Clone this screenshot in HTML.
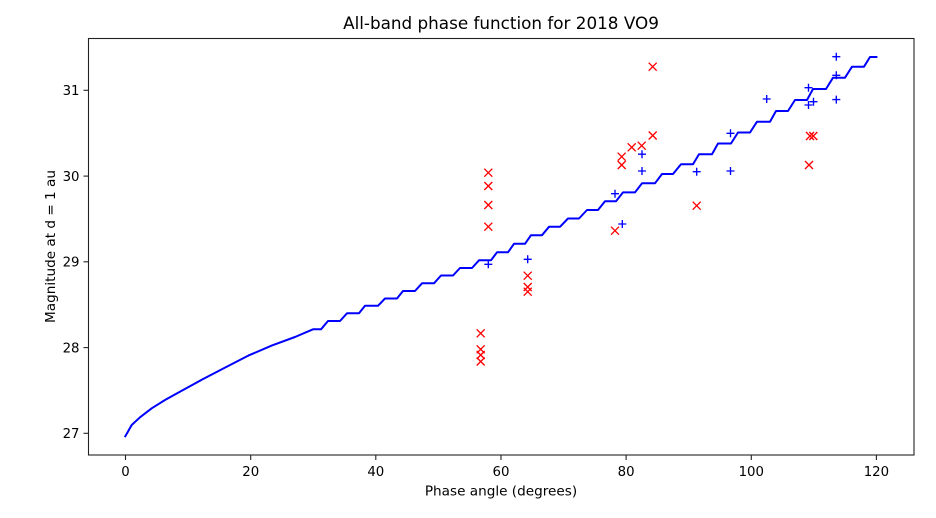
<!DOCTYPE html>
<html><head><meta charset="utf-8"><style>
html,body{margin:0;padding:0;background:#fff;}
svg{display:block;}
text{font-family:"DejaVu Sans","Liberation Sans",sans-serif;fill:#000;}
</style></head><body>
<svg width="936" height="518" viewBox="0 0 936 518" xmlns="http://www.w3.org/2000/svg">
<rect x="0" y="0" width="936" height="518" fill="#fff"/>
<!-- curve -->
<path fill="none" stroke="#0000ff" stroke-width="2" stroke-linejoin="round" stroke-linecap="square" d="M125.3,436.3 L131.7,425 L140,417.3 L151.7,408.3 L165,400 L181.7,390.7 L201.7,379.8 L225,367.6 L248.3,355.6 L271.7,345.6 L295,337 L313,329.3 L321,329.3 L328,321.0 L340,321.0 L347,313.3 L359,313.3 L365,305.8 L378,305.8 L385,298.5 L397,298.5 L403,291.0 L415,291.0 L422,283.3 L434,283.3 L441,275.5 L453,275.5 L460,268.0 L472,268.0 L479,260.3 L491,260.3 L497,252.3 L508,252.3 L514,243.8 L525,243.8 L531,235.2 L542,235.2 L549,226.8 L560,226.8 L568,218.5 L579,218.5 L587,210.0 L598,210.0 L605,201.2 L616,201.2 L623,192.4 L635,192.4 L642,183.3 L655,183.3 L662,174.0 L673,174.0 L681,164.3 L693,164.3 L699,154.2 L712,154.2 L718,143.5 L731,143.5 L738,132.5 L750,132.5 L757,121.7 L770,121.7 L776,111.0 L788,111.0 L795,100.0 L807,100.0 L813,89.0 L826,89.0 L833,77.7 L845,77.7 L852,66.7 L864,66.7 L870,57.0 L876.4,57.0"/>
<!-- red x markers -->
<g stroke="#ff0000" stroke-width="1.35" fill="none">
<path d="M476.7,329.3l8,8m0,-8l-8,8"/>
<path d="M476.7,345.3l8,8m0,-8l-8,8"/>
<path d="M476.7,351l8,8m0,-8l-8,8"/>
<path d="M476.7,357.5l8,8m0,-8l-8,8"/>
<path d="M484.3,168.7l8,8m0,-8l-8,8"/>
<path d="M484.3,182l8,8m0,-8l-8,8"/>
<path d="M484.3,201l8,8m0,-8l-8,8"/>
<path d="M484.3,222.7l8,8m0,-8l-8,8"/>
<path d="M523.7,271.7l8,8m0,-8l-8,8"/>
<path d="M523.7,283l8,8m0,-8l-8,8"/>
<path d="M523.7,287.7l8,8m0,-8l-8,8"/>
<path d="M611,226.7l8,8m0,-8l-8,8"/>
<path d="M617.7,152.7l8,8m0,-8l-8,8"/>
<path d="M617.7,161l8,8m0,-8l-8,8"/>
<path d="M627.7,143.3l8,8m0,-8l-8,8"/>
<path d="M637.7,141.7l8,8m0,-8l-8,8"/>
<path d="M648.7,62.7l8,8m0,-8l-8,8"/>
<path d="M648.7,131.5l8,8m0,-8l-8,8"/>
<path d="M692.7,201.7l8,8m0,-8l-8,8"/>
<path d="M805,161l8,8m0,-8l-8,8"/>
<path d="M806,132l8,8m0,-8l-8,8"/>
<path d="M809.3,132l8,8m0,-8l-8,8"/>
</g>
<!-- blue + markers -->
<g stroke="#0000ff" stroke-width="1.35" fill="none">
<path d="M484.3,264.3h8m-4,-4v8"/>
<path d="M523.7,259.3h8m-4,-4v8"/>
<path d="M611,193.7h8m-4,-4v8"/>
<path d="M618.3,224h8m-4,-4v8"/>
<path d="M638,154.2h8m-4,-4v8"/>
<path d="M638,171h8m-4,-4v8"/>
<path d="M692.7,171.7h8m-4,-4v8"/>
<path d="M726.5,133.3h8m-4,-4v8"/>
<path d="M726.5,171h8m-4,-4v8"/>
<path d="M762.7,99h8m-4,-4v8"/>
<path d="M804.5,87.7h8m-4,-4v8"/>
<path d="M804.5,105h8m-4,-4v8"/>
<path d="M809.5,101.7h8m-4,-4v8"/>
<path d="M832.3,56.7h8m-4,-4v8"/>
<path d="M832.3,75.3h8m-4,-4v8"/>
<path d="M832.3,99.6h8m-4,-4v8"/>
</g>
<!-- axes frame -->
<rect x="88.5" y="38.5" width="825.5" height="416.5" fill="none" stroke="#222" stroke-width="1.1"/>
<!-- ticks -->
<g stroke="#222" stroke-width="1.1">
<line x1="83.5" y1="90.3" x2="88.5" y2="90.3"/>
<line x1="83.5" y1="176.1" x2="88.5" y2="176.1"/>
<line x1="83.5" y1="261.8" x2="88.5" y2="261.8"/>
<line x1="83.5" y1="347.6" x2="88.5" y2="347.6"/>
<line x1="83.5" y1="433.3" x2="88.5" y2="433.3"/>
<line x1="125.5" y1="455" x2="125.5" y2="460"/>
<line x1="250.7" y1="455" x2="250.7" y2="460"/>
<line x1="375.8" y1="455" x2="375.8" y2="460"/>
<line x1="501" y1="455" x2="501" y2="460"/>
<line x1="626.1" y1="455" x2="626.1" y2="460"/>
<line x1="751.3" y1="455" x2="751.3" y2="460"/>
<line x1="876.4" y1="455" x2="876.4" y2="460"/>
</g>
<g font-size="13.3" text-anchor="end">
<text x="79.5" y="95.1">31</text>
<text x="79.5" y="180.9">30</text>
<text x="79.5" y="266.6">29</text>
<text x="79.5" y="352.4">28</text>
<text x="79.5" y="438.1">27</text>
</g>
<g font-size="13.3" text-anchor="middle">
<text x="125.5" y="476">0</text>
<text x="250.7" y="476">20</text>
<text x="375.8" y="476">40</text>
<text x="501" y="476">60</text>
<text x="626.1" y="476">80</text>
<text x="751.3" y="476">100</text>
<text x="876.4" y="476">120</text>
</g>
<text x="501" y="495.5" font-size="13.6" text-anchor="middle">Phase angle (degrees)</text>
<text transform="translate(55,246.5) rotate(-90)" x="0" y="0" font-size="13.6" text-anchor="middle">Magnitude at d = 1 au</text>
<text x="501" y="29" font-size="16.8" text-anchor="middle">All-band phase function for 2018 VO9</text>
</svg>
</body></html>
